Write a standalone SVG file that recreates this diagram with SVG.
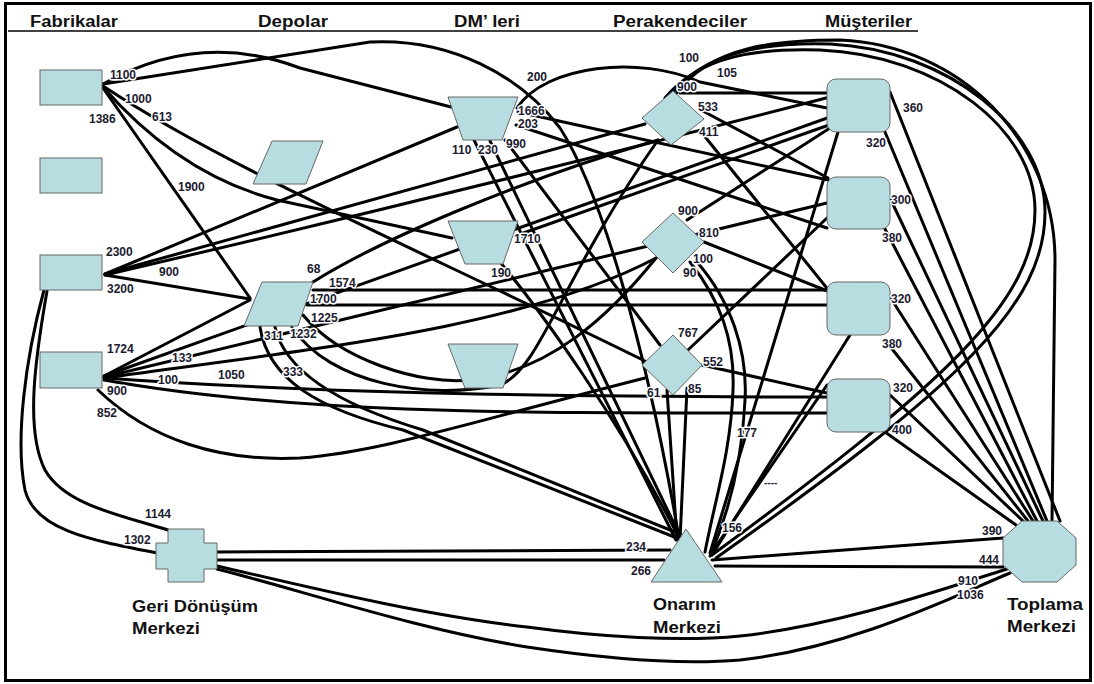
<svg xmlns="http://www.w3.org/2000/svg" width="1094" height="684" viewBox="0 0 1094 684">
<style>
.node{fill:#b8dde1;stroke:#666;stroke-width:1}
.c path{fill:none;stroke:#000;stroke-width:3;stroke-linejoin:round;stroke-linecap:round}
.t{font-family:"Liberation Sans",Arial,sans-serif;font-weight:bold;font-size:16px;fill:#111}
.n{font-family:"Liberation Sans",Arial,sans-serif;font-weight:bold;font-size:17px;fill:#111}
.l{font-family:"Liberation Sans",Arial,sans-serif;font-weight:bold;font-size:12px;fill:#1b1b30;stroke:#fff;stroke-width:3;paint-order:stroke;stroke-linejoin:round}
</style>
<rect x="0" y="0" width="1094" height="684" fill="#fff"/>
<rect x="5.5" y="3.5" width="1085" height="677" fill="none" stroke="#000" stroke-width="3"/>
<line x1="8" y1="31" x2="918" y2="31" stroke="#000" stroke-width="1.5"/>
<g id="titles">
<text class="t" x="30" y="27" textLength="88" lengthAdjust="spacingAndGlyphs">Fabrikalar</text>
<text class="t" x="258" y="27" textLength="70" lengthAdjust="spacingAndGlyphs">Depolar</text>
<text class="t" x="454" y="27" textLength="66" lengthAdjust="spacingAndGlyphs">DM’ leri</text>
<text class="t" x="613" y="27" textLength="134" lengthAdjust="spacingAndGlyphs">Perakendeciler</text>
<text class="t" x="825" y="27" textLength="87" lengthAdjust="spacingAndGlyphs">Müşteriler</text>
</g>
<g id="connectors" class="c">
<path d="M103,84 L370,42 C450,38 520,75 560,128 C600,190 645,340 679,538"/>
<path d="M103,84 Q200,30 300,68 L455,108"/>
<path d="M103,86 C230,170 420,250 645,361"/>
<path d="M103,87 Q180,175 277,200 L452,238"/>
<path d="M103,88 L250,298"/>
<path d="M105,274 L457,127"/>
<path d="M105,274 L645,124"/>
<path d="M105,275 Q470,190 830,97"/>
<path d="M105,275 L250,299"/>
<path d="M44,290 C25,360 15,440 25,490 C35,530 90,540 157,553"/>
<path d="M47,291 C35,360 25,430 45,470 C65,505 120,515 168,530"/>
<path d="M104,376 L830,117"/>
<path d="M104,376 L250,300"/>
<path d="M104,377 L827,203"/>
<path d="M104,378 C300,350 520,330 656,258"/>
<path d="M104,378 C300,392 520,397 827,397"/>
<path d="M104,380 C300,415 520,413 827,413"/>
<path d="M98,390 C150,440 220,462 300,458 C380,452 460,425 645,378"/>
<path d="M313,282 C380,240 520,180 658,140"/>
<path d="M313,290 L827,290"/>
<path d="M307,305 L827,305"/>
<path d="M303,315 C340,360 420,385 470,380 C550,372 610,315 656,258"/>
<path d="M292,327 C330,385 430,400 500,385 C540,370 560,280 658,140"/>
<path d="M260,327 C268,380 320,410 403,430 L677,538"/>
<path d="M275,327 C285,372 340,405 423,430 L680,534"/>
<path d="M517,108 C545,65 640,55 700,82 L827,108"/>
<path d="M518,112 L828,180"/>
<path d="M516,125 L827,228"/>
<path d="M474,140 L676,540"/>
<path d="M490,141 L681,538"/>
<path d="M505,140 L660,345"/>
<path d="M515,236 L829,125"/>
<path d="M500,262 C540,310 620,420 679,538"/>
<path d="M680,93 L827,93"/>
<path d="M701,110 L828,178"/>
<path d="M702,133 L830,292"/>
<path d="M665,98 C700,55 760,48 820,50 C940,55 1035,130 1035,210 C1035,300 950,380 712,555"/>
<path d="M670,96 C705,50 770,42 830,44 C950,50 1045,130 1045,212 C1045,305 960,385 716,558"/>
<path d="M675,95 C710,45 780,40 840,40 C960,45 1055,140 1055,260 L1052,521"/>
<path d="M687,220 L830,128"/>
<path d="M704,242 L830,292"/>
<path d="M690,262 C720,300 735,340 733,390 C731,450 715,500 705,552"/>
<path d="M697,262 C730,300 748,350 745,400 C742,460 730,510 710,556"/>
<path d="M688,350 L827,218"/>
<path d="M702,365 L827,393"/>
<path d="M667,390 L677,540"/>
<path d="M687,388 L680,540"/>
<path d="M838,132 L710,553"/>
<path d="M890,92 L1060,521"/>
<path d="M885,132 L1047,521"/>
<path d="M890,198 L1043,521"/>
<path d="M885,229 L1037,521"/>
<path d="M890,297 L1033,521"/>
<path d="M885,340 L1028,521"/>
<path d="M850,335 L712,555"/>
<path d="M890,395 L1023,521"/>
<path d="M885,432 L1016,525"/>
<path d="M827,385 L712,552"/>
<path d="M712,560 L1003,538"/>
<path d="M715,566 L1003,567"/>
<path d="M217,552 L670,550"/>
<path d="M217,560 L664,560"/>
<path d="M217,566 C300,585 420,615 527,627 C600,637 680,642 740,636 C840,625 940,590 1007,569"/>
<path d="M217,569 C300,590 420,630 527,647 C600,658 680,665 740,660 C850,648 950,598 1010,573"/>
</g>
<g id="F1"><rect class="node" x="40" y="70" width="62" height="35"/></g>
<g id="F2"><rect class="node" x="40" y="158" width="62" height="35"/></g>
<g id="F3"><rect class="node" x="40" y="255" width="62" height="35"/></g>
<g id="F4"><rect class="node" x="40" y="352" width="62" height="36"/></g>
<g id="D1"><polygon class="node" points="272,141 323,141 306,184 253,184"/></g>
<g id="D2"><polygon class="node" points="262,282 313,282 298,326 244,326"/></g>
<g id="T1"><polygon class="node" points="448,97 518,97 502,140 463,140"/></g>
<g id="T2"><polygon class="node" points="448,221 518,221 503,264 465,264"/></g>
<g id="T3"><polygon class="node" points="448,344 518,344 503,388 465,388"/></g>
<g id="P1"><polygon class="node" points="673,91 704,119 671,145 642,118"/></g>
<g id="P2"><polygon class="node" points="673,213 704,242 673,273 642,242"/></g>
<g id="P3"><polygon class="node" points="673,335 702,365 673,395 642,365"/></g>
<g id="M1"><rect class="node" x="827" y="79" width="63" height="53" rx="9"/></g>
<g id="M2"><rect class="node" x="827" y="177" width="63" height="52" rx="9"/></g>
<g id="M3"><rect class="node" x="827" y="282" width="63" height="53" rx="9"/></g>
<g id="M4"><rect class="node" x="827" y="379" width="63" height="53" rx="9"/></g>
<g id="geri">
<polygon class="node" points="168,529 204,529 204,543 217,543 217,569 204,569 204,582 168,582 168,569 156,569 156,543 168,543"/>
<text class="n" x="132" y="612" textLength="126" lengthAdjust="spacingAndGlyphs">Geri Dönüşüm</text>
<text class="n" x="132" y="634" textLength="68" lengthAdjust="spacingAndGlyphs">Merkezi</text>
</g>
<g id="onarim">
<polygon class="node" points="686,529 722,582 651,582"/>
<text class="n" x="653" y="610" textLength="63" lengthAdjust="spacingAndGlyphs">Onarım</text>
<text class="n" x="653" y="633" textLength="68" lengthAdjust="spacingAndGlyphs">Merkezi</text>
</g>
<g id="toplama">
<polygon class="node" points="1022,521 1057,521 1076,538 1076,565 1057,582 1022,582 1003,565 1003,538"/>
<text class="n" x="1007" y="610" textLength="76" lengthAdjust="spacingAndGlyphs">Toplama</text>
<text class="n" x="1007" y="632" textLength="69" lengthAdjust="spacingAndGlyphs">Merkezi</text>
</g>
<g id="labels">
<text class="l" x="110" y="79">1100</text>
<text class="l" x="125" y="103">1000</text>
<text class="l" x="89" y="123">1386</text>
<text class="l" x="152" y="121">613</text>
<text class="l" x="178" y="191">1900</text>
<text class="l" x="527" y="81">200</text>
<text class="l" x="518" y="115">1666</text>
<text class="l" x="518" y="128">203</text>
<text class="l" x="452" y="154">110</text>
<text class="l" x="478" y="154">230</text>
<text class="l" x="506" y="148">990</text>
<text class="l" x="679" y="62">100</text>
<text class="l" x="717" y="77">105</text>
<text class="l" x="677" y="91">900</text>
<text class="l" x="698" y="111">533</text>
<text class="l" x="699" y="136">411</text>
<text class="l" x="903" y="112">360</text>
<text class="l" x="866" y="147">320</text>
<text class="l" x="678" y="215">900</text>
<text class="l" x="699" y="237">810</text>
<text class="l" x="693" y="263">100</text>
<text class="l" x="683" y="277">90</text>
<text class="l" x="891" y="204">300</text>
<text class="l" x="882" y="242">380</text>
<text class="l" x="891" y="303">320</text>
<text class="l" x="882" y="348">380</text>
<text class="l" x="893" y="392">320</text>
<text class="l" x="892" y="434">400</text>
<text class="l" x="737" y="437">177</text>
<text class="l" x="106" y="256">2300</text>
<text class="l" x="159" y="276">900</text>
<text class="l" x="107" y="293">3200</text>
<text class="l" x="107" y="353">1724</text>
<text class="l" x="172" y="362">133</text>
<text class="l" x="218" y="379">1050</text>
<text class="l" x="158" y="384">100</text>
<text class="l" x="107" y="395">900</text>
<text class="l" x="97" y="417">852</text>
<text class="l" x="307" y="273">68</text>
<text class="l" x="329" y="287">1574</text>
<text class="l" x="310" y="303">1700</text>
<text class="l" x="311" y="322">1225</text>
<text class="l" x="264" y="340">311</text>
<text class="l" x="290" y="338">1232</text>
<text class="l" x="283" y="376">333</text>
<text class="l" x="514" y="243">1710</text>
<text class="l" x="491" y="277">190</text>
<text class="l" x="678" y="337">767</text>
<text class="l" x="703" y="366">552</text>
<text class="l" x="647" y="397">61</text>
<text class="l" x="688" y="393">85</text>
<text class="l" x="722" y="532">156</text>
<text class="l" x="626" y="551">234</text>
<text class="l" x="631" y="575">266</text>
<text class="l" x="145" y="518">1144</text>
<text class="l" x="124" y="544">1302</text>
<text class="l" x="982" y="535">390</text>
<text class="l" x="979" y="564">444</text>
<text class="l" x="958" y="585">910</text>
<text class="l" x="957" y="599">1036</text>
<text class="l" x="764" y="486" style="font-size:10px">----</text>
</g>
</svg>
